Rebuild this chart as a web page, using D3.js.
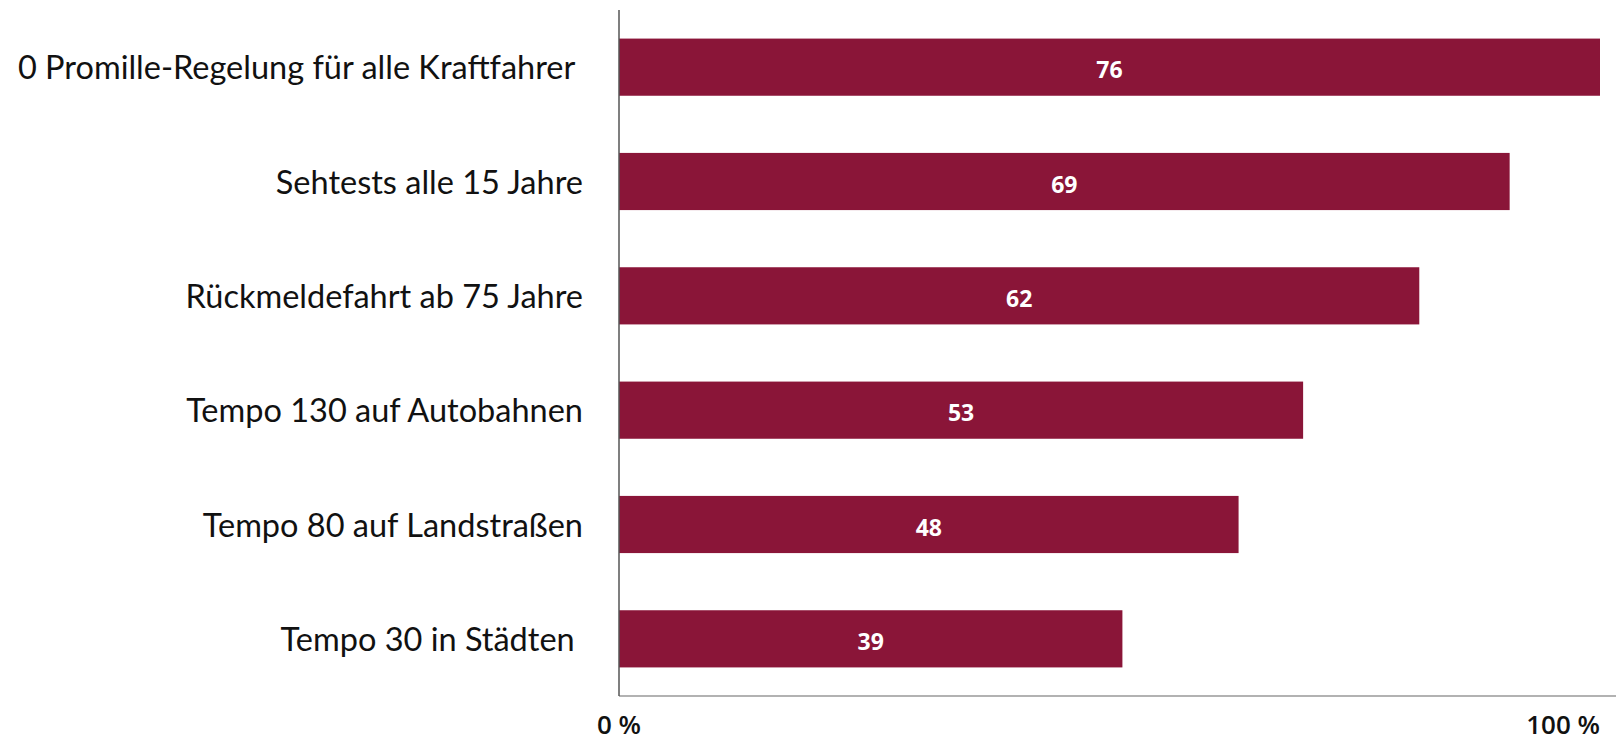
<!DOCTYPE html>
<html>
<head>
<meta charset="utf-8">
<script src="https://cdn.jsdelivr.net/npm/d3@7"></script>
<style>
  html, body { margin: 0; padding: 0; background: #fff; }
  svg { display: block; }
</style>
</head>
<body>
<svg id="chart" width="1616" height="741"></svg>
<script>
const categories = [
  "0 Promille-Regelung für alle Kraftfahrer ",
  "Sehtests alle 15 Jahre",
  "Rückmeldefahrt ab 75 Jahre",
  "Tempo 130 auf Autobahnen",
  "Tempo 80 auf Landstraßen",
  "Tempo 30 in Städten "
];
const values = [76, 69, 62, 53, 48, 39];
const tickLabels = ["0 %", "100 %"];

const svg = d3.select("#chart");
const barColor = "#8a1538";

const x = d3.scaleLinear().domain([0, d3.max(values)]).range([619, 1600]);
const y = d3.scaleBand().domain(categories).range([10, 696]).paddingInner(0.5).paddingOuter(0.25);

// bars
svg.append("g").selectAll("rect")
  .data(values)
  .join("rect")
  .attr("x", x(0))
  .attr("y", (d, i) => y(categories[i]))
  .attr("width", d => x(d) - x(0))
  .attr("height", y.bandwidth())
  .attr("fill", barColor);

// value labels
svg.append("g").selectAll("text")
  .data(values)
  .join("text")
  .attr("x", d => (x(0) + x(d)) / 2)
  .attr("y", (d, i) => y(categories[i]) + y.bandwidth() / 2 + 5)
  .attr("text-anchor", "middle")
  .attr("dominant-baseline", "middle")
  .attr("fill", "#fff")
  .attr("font-family", "'Open Sans', sans-serif")
  .attr("font-weight", "bold")
  .attr("font-size", 23)
  .text(d => d);

// category labels
svg.append("g").selectAll("text")
  .data(categories)
  .join("text")
  .attr("x", 583)
  .attr("y", d => y(d) + y.bandwidth() / 2 + 4)
  .attr("text-anchor", "end")
  .attr("dominant-baseline", "middle")
  .attr("fill", "#111")
  .attr("font-family", "Lato, sans-serif")
  .attr("font-size", 32.5)
  .style("white-space", "pre")
  .text(d => d);

// axes lines
svg.append("line")
  .attr("x1", 619).attr("x2", 1616)
  .attr("y1", 696).attr("y2", 696)
  .attr("stroke", "#999").attr("stroke-width", 1.5);
svg.append("line")
  .attr("x1", x(0)).attr("x2", x(0))
  .attr("y1", 10).attr("y2", 696)
  .attr("stroke", "#555").attr("stroke-width", 1.5);

// tick labels
svg.append("text")
  .attr("x", x(0)).attr("y", 734)
  .attr("text-anchor", "middle")
  .attr("font-family", "'Open Sans', sans-serif")
  .attr("font-weight", 600)
  .attr("font-size", 26)
  .attr("fill", "#111")
  .text(tickLabels[0]);
svg.append("text")
  .attr("x", x(d3.max(values))).attr("y", 734)
  .attr("text-anchor", "end")
  .attr("font-family", "'Open Sans', sans-serif")
  .attr("font-weight", 600)
  .attr("font-size", 26)
  .attr("fill", "#111")
  .text(tickLabels[1]);
</script>
</body>
</html>
